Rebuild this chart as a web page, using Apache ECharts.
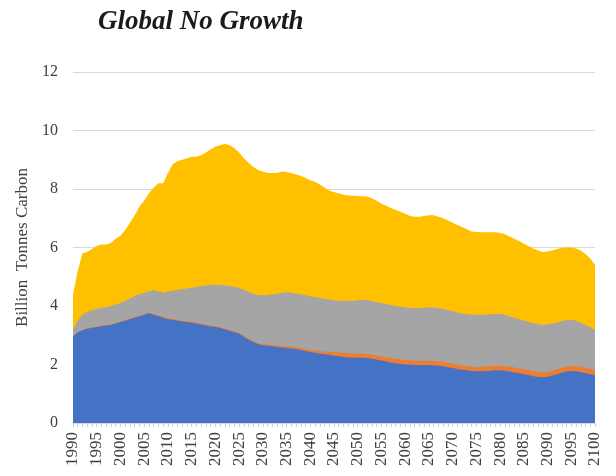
<!DOCTYPE html>
<html>
<head>
<meta charset="utf-8">
<script src="https://cdn.jsdelivr.net/npm/echarts@6/dist/echarts.min.js"></script>
<style>
html,body{margin:0;padding:0;background:#fff;}
#c{width:616px;height:476px;}
</style>
</head>
<body>
<div id="c"></div>
<script>
// Years 1990..2100 (one category per year)
const years = [];
for (let y = 1990; y <= 2100; y++) years.push(String(y));

const yTicks = [0, 2, 4, 6, 8, 10, 12];

// Cumulative level of each band's upper edge (Billion tonnes carbon)
// Top of yellow band (total)
const totalTop = [
4.4,5.2,5.8,5.85,5.95,6.05,6.1,6.1,6.15,6.3,
6.4,6.6,6.85,7.1,7.4,7.6,7.85,8.05,8.2,8.2,
8.55,8.85,8.95,9.0,9.05,9.1,9.1,9.15,9.25,9.35,
9.45,9.5,9.55,9.5,9.4,9.25,9.05,8.9,8.75,8.65,
8.6,8.55,8.55,8.55,8.6,8.58,8.55,8.5,8.45,8.38,
8.3,8.25,8.15,8.05,7.95,7.9,7.85,7.8,7.78,7.77,
7.76,7.75,7.74,7.68,7.6,7.5,7.43,7.35,7.28,7.22,
7.15,7.08,7.05,7.05,7.08,7.1,7.1,7.05,7.0,6.92,
6.85,6.77,6.7,6.62,6.55,6.53,6.52,6.52,6.52,6.52,
6.5,6.45,6.38,6.3,6.22,6.13,6.05,5.97,5.9,5.85,
5.86,5.9,5.95,5.98,6.0,6.0,5.97,5.9,5.78,5.62,
5.4
];
// Top of grey band
const greyTop = [
3.2,3.5,3.7,3.8,3.85,3.9,3.93,3.97,4.0,4.05,
4.1,4.18,4.25,4.35,4.4,4.45,4.5,4.55,4.5,4.45,
4.5,4.52,4.55,4.58,4.6,4.62,4.65,4.68,4.7,4.72,
4.73,4.72,4.7,4.68,4.65,4.62,4.55,4.5,4.42,4.38,
4.37,4.37,4.4,4.42,4.45,4.47,4.45,4.42,4.4,4.37,
4.33,4.3,4.27,4.25,4.23,4.2,4.18,4.17,4.17,4.18,
4.2,4.22,4.2,4.17,4.13,4.1,4.07,4.03,4.0,3.98,
3.96,3.94,3.93,3.93,3.94,3.95,3.95,3.93,3.9,3.86,
3.82,3.78,3.74,3.72,3.7,3.7,3.7,3.71,3.72,3.73,
3.73,3.7,3.65,3.6,3.55,3.5,3.46,3.42,3.38,3.36,
3.37,3.4,3.44,3.48,3.52,3.53,3.5,3.43,3.35,3.27,
3.18
];
// Top of orange band
const orangeTop = [
2.97,3.12,3.19,3.24,3.27,3.3,3.33,3.35,3.37,3.42,
3.47,3.52,3.57,3.62,3.67,3.72,3.77,3.73,3.68,3.63,
3.58,3.56,3.53,3.5,3.48,3.46,3.43,3.4,3.36,3.33,
3.31,3.28,3.23,3.18,3.13,3.08,2.98,2.88,2.8,2.73,
2.7,2.68,2.66,2.65,2.64,2.63,2.61,2.59,2.56,2.53,
2.5,2.48,2.46,2.44,2.43,2.42,2.41,2.4,2.39,2.38,
2.38,2.37,2.36,2.34,2.31,2.28,2.25,2.22,2.19,2.17,
2.15,2.14,2.13,2.13,2.13,2.13,2.12,2.11,2.09,2.06,
2.03,2.0,1.97,1.94,1.92,1.91,1.92,1.94,1.95,1.96,
1.96,1.95,1.93,1.9,1.87,1.84,1.81,1.77,1.74,1.73,
1.75,1.79,1.84,1.89,1.93,1.95,1.94,1.92,1.89,1.85,
1.81
];
// Top of blue band
const blueTop = [
2.95,3.1,3.17,3.22,3.25,3.28,3.31,3.33,3.35,3.4,
3.45,3.5,3.55,3.6,3.65,3.7,3.75,3.7,3.65,3.6,
3.55,3.53,3.5,3.47,3.45,3.43,3.4,3.37,3.33,3.3,
3.28,3.25,3.2,3.15,3.1,3.05,2.95,2.85,2.77,2.7,
2.66,2.64,2.62,2.6,2.58,2.57,2.55,2.53,2.5,2.46,
2.43,2.4,2.37,2.35,2.33,2.3,2.28,2.26,2.25,2.24,
2.24,2.23,2.22,2.2,2.17,2.14,2.1,2.07,2.04,2.02,
2.0,1.99,1.98,1.98,1.98,1.98,1.97,1.96,1.94,1.91,
1.88,1.85,1.82,1.8,1.78,1.77,1.77,1.78,1.79,1.8,
1.8,1.79,1.76,1.73,1.7,1.67,1.64,1.6,1.57,1.56,
1.58,1.62,1.67,1.72,1.76,1.78,1.77,1.74,1.7,1.67,
1.63
];

const chart = echarts.init(document.getElementById('c'), null, {renderer: 'canvas'});
const serif = '"Liberation Serif", "DejaVu Serif", serif';

function band(name, data, color) {
  return {
    name: name,
    type: 'line',
    data: data,
    symbol: 'none',
    smooth: false,
    lineStyle: {width: 0},
    areaStyle: {color: color, opacity: 1, origin: 'start'},
    itemStyle: {color: color},
    silent: true,
    animation: false
  };
}

chart.setOption({
  animation: false,
  backgroundColor: '#ffffff',
  title: {
    text: 'Global No Growth',
    left: 93,
    top: 4,
    textStyle: {
      fontFamily: serif,
      fontStyle: 'italic',
      fontWeight: 'bold',
      fontSize: 27,
      color: '#1a1a1a'
    }
  },
  grid: {left: 73, right: 21, top: 72, bottom: 53, containLabel: false},
  xAxis: {
    type: 'category',
    data: years,
    boundaryGap: false,
    axisLine: {show: true, lineStyle: {color: '#d9d9d9', width: 1}},
    axisTick: {show: true, interval: 0, length: 4, lineStyle: {color: '#c5d0e6'}},
    axisLabel: {
      interval: 4,
      rotate: 90,
      fontFamily: serif,
      fontSize: 17,
      color: '#404040',
      margin: 9
    },
    splitLine: {show: false}
  },
  yAxis: {
    type: 'value',
    min: yTicks[0],
    max: yTicks[yTicks.length - 1],
    interval: 2,
    name: 'Billion  Tonnes Carbon',
    nameLocation: 'middle',
    nameGap: 41,
    nameTextStyle: {fontFamily: serif, fontSize: 17, color: '#404040'},
    axisLine: {show: false},
    axisTick: {show: false},
    axisLabel: {fontFamily: serif, fontSize: 16, color: '#404040', margin: 15},
    splitLine: {lineStyle: {color: '#d9d9d9', width: 1}}
  },
  series: [
    band('Yellow', totalTop, '#FFC000'),
    band('Grey', greyTop, '#A5A5A5'),
    band('Orange', orangeTop, '#ED7D31'),
    band('Blue', blueTop, '#4472C4')
  ]
});
</script>
</body>
</html>
